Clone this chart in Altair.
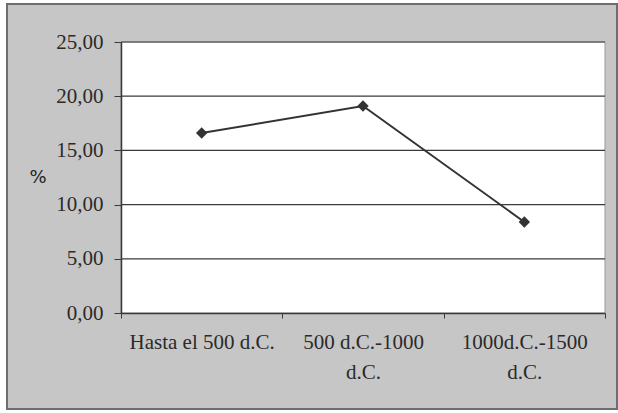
import altair as alt
import pandas as pd

categories = ["Hasta el 500 d.C.", "500 d.C.-1000 d.C.", "1000d.C.-1500 d.C."]
values = [16.6, 19.1, 8.4]
y_ticks = [0, 5, 10, 15, 20, 25]

df = pd.DataFrame({"periodo": categories, "pct": values})
grid_df = pd.DataFrame({"g": y_ticks[1:]})

W, H = 484, 271
PL, PT = 121, 42

frame = alt.Chart(pd.DataFrame({"a": [0]})).mark_rect(
    fill="#c6c6c6", stroke="#6e6e6e", strokeWidth=2
).encode(
    x=alt.value(7 - PL), x2=alt.value(617 - PL),
    y=alt.value(4 - PT), y2=alt.value(409 - PT),
)

plotbg = alt.Chart(pd.DataFrame({"a": [0]})).mark_rect(
    fill="white", stroke="#9a9a9a", strokeWidth=1
).encode(
    x=alt.value(0), x2=alt.value(W), y=alt.value(0), y2=alt.value(H)
)

pct_label = alt.Chart(pd.DataFrame({"t": ["%"]})).mark_text(
    font="DejaVu Sans", fontSize=18, color="#222222"
).encode(text="t:N", x=alt.value(38 - PL), y=alt.value(178 - PT))

xenc = alt.X(
    "periodo:N", sort=categories, title=None,
    scale=alt.Scale(paddingInner=0, paddingOuter=0),
    axis=alt.Axis(
        labelAngle=0, labelFont="Liberation Serif", labelFontSize=21,
        labelColor="#2a2a2a", labelLimit=220, labelPadding=13,
        labelLineHeight=30, zindex=2,
        labelExpr="indexof(datum.label,'-')>0 ? [slice(datum.label,0,lastindexof(datum.label,' ')), slice(datum.label,lastindexof(datum.label,' ')+1)] : datum.label",
        domainColor="#3a3a3a", domainWidth=1.5, tickColor="#3a3a3a",
        tickBand="extent", tickSize=5, grid=False,
    ),
)
yscale = alt.Scale(domain=[0, 25], nice=False)
yenc = alt.Y(
    "pct:Q", title=None, scale=yscale,
    axis=alt.Axis(
        values=y_ticks, zindex=2,
        labelExpr="replace(format(datum.value, '.2f'), '.', ',')",
        labelFont="Liberation Serif", labelFontSize=21, labelColor="#2a2a2a",
        labelPadding=11, tickSize=7, tickColor="#3a3a3a",
        domainColor="#3a3a3a", domainWidth=1.5, grid=False,
    ),
)

grid = alt.Chart(grid_df).mark_rule(color="#3a3a3a", strokeWidth=1.2).encode(
    y=alt.Y("g:Q", scale=yscale)
)

line = alt.Chart(df).mark_line(color="#333333", strokeWidth=2).encode(
    x=xenc, y=yenc
)
pts = alt.Chart(df).mark_point(
    shape="diamond", filled=True, size=130, color="#333333", opacity=1
).encode(x=xenc, y=yenc)

chart = alt.layer(frame, plotbg, pct_label, grid, line, pts).properties(
    width=W, height=H,
    padding={"left": PL, "top": PT, "right": 618 - PL - W, "bottom": 413 - PT - H},
    autosize=alt.AutoSizeParams(type="none"),
    background="white",
).configure_view(stroke=None)

chart.save("out.html", embed_options={"renderer": "svg", "actions": False})
